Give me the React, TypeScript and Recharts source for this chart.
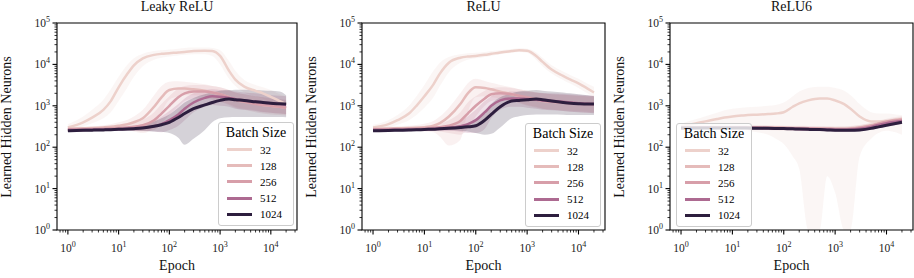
import React from 'react';
import { ComposedChart, Line, Area, XAxis, YAxis, ReferenceArea } from 'recharts';

// epochs sampled on the log axis
const epochs = [1, 2, 3, 5, 7, 10, 15, 20, 30, 50, 70, 100, 150, 200, 300, 500, 700, 1000, 1500, 2000, 3000, 5000, 7000, 10000, 15000, 20000];
const batchSizes = [32, 128, 256, 512, 1024];
const batchColors = ['#EDD1CB', '#E5BBBA', '#D79EA9', '#AD6A91', '#2D1E3E'];
const decadeTicks = [1, 10, 100, 1000, 10000, 100000];
const minorSteps = [2, 3, 4, 5, 6, 7, 8, 9];
const xDomain = [0.61, 32800];
const yDomain = [1, 100000];

// Leaky ReLU
const leaky32 = [300, 400, 520, 800, 1300, 2800, 6000, 9500, 14000, 17000, 18000, 18600, 19500, 20000, 21000, 21500, 21000, 16000, 7000, 4300, 2900, 2300, 2000, 1650, 1300, 1100];
const leaky32Lo = [260, 320, 380, 500, 700, 1300, 2800, 5000, 9000, 13000, 14500, 15500, 16500, 17000, 17500, 17500, 16000, 10000, 4500, 3000, 2100, 1700, 1500, 1200, 950, 800];
const leaky32Hi = [360, 550, 800, 1400, 2500, 5000, 10000, 14000, 18000, 21000, 22000, 23000, 24000, 25000, 25500, 25500, 25000, 22000, 12000, 7000, 4200, 3200, 2800, 2400, 1900, 1700];
const leaky128 = [280, 285, 290, 300, 310, 330, 360, 400, 500, 950, 1600, 2400, 2600, 2600, 2500, 2300, 2100, 1900, 1600, 1400, 1250, 1150, 1050, 1000, 950, 900];
const leaky128Lo = [250, 255, 255, 260, 260, 265, 260, 240, 220, 300, 700, 1400, 1700, 1800, 1800, 1700, 1500, 1300, 1100, 950, 850, 780, 720, 680, 650, 620];
const leaky128Hi = [310, 315, 320, 340, 360, 400, 460, 550, 800, 1800, 3000, 3800, 3900, 3800, 3600, 3300, 3000, 2800, 2400, 2100, 1900, 1700, 1600, 1500, 1400, 1350];
const leaky256 = [270, 272, 275, 280, 285, 290, 300, 310, 340, 450, 650, 1000, 1600, 2000, 2200, 2200, 2100, 1900, 1600, 1400, 1250, 1100, 1050, 1000, 950, 900];
const leaky256Lo = [245, 245, 248, 250, 252, 255, 255, 250, 240, 260, 380, 600, 950, 1300, 1500, 1500, 1400, 1250, 1050, 900, 800, 700, 650, 620, 600, 580];
const leaky256Hi = [300, 300, 305, 310, 320, 330, 350, 380, 460, 700, 1100, 1700, 2600, 3000, 3200, 3200, 3000, 2800, 2400, 2100, 1900, 1700, 1600, 1500, 1450, 1400];
const leaky512 = [260, 262, 265, 268, 270, 275, 280, 285, 295, 320, 360, 450, 620, 850, 1200, 1550, 1700, 1650, 1550, 1450, 1350, 1250, 1200, 1150, 1100, 1050];
const leaky512Lo = [240, 240, 242, 245, 245, 248, 250, 250, 250, 240, 230, 260, 330, 450, 700, 950, 1050, 1000, 950, 850, 800, 750, 700, 680, 650, 630];
const leaky512Hi = [285, 288, 290, 295, 300, 305, 315, 330, 360, 430, 550, 750, 1100, 1500, 2000, 2400, 2500, 2400, 2300, 2200, 2100, 2000, 1900, 1800, 1750, 1700];
const leaky1024 = [250, 255, 258, 262, 265, 270, 275, 280, 290, 320, 350, 400, 520, 650, 850, 1050, 1200, 1350, 1450, 1400, 1350, 1250, 1200, 1150, 1120, 1100];
const leaky1024Lo = [235, 238, 240, 243, 245, 248, 250, 250, 245, 240, 235, 220, 170, 115, 160, 260, 400, 500, 530, 540, 540, 540, 540, 540, 540, 530];
const leaky1024Hi = [265, 270, 275, 280, 285, 290, 300, 310, 340, 420, 500, 620, 900, 1200, 1550, 1900, 2100, 2300, 2400, 2450, 2450, 2400, 2350, 2300, 2200, 1800];

// ReLU
const relu32 = [300, 360, 450, 650, 1000, 1700, 3300, 6000, 11000, 14500, 15500, 16000, 17000, 18000, 19500, 21000, 22000, 21500, 16000, 11500, 7500, 5300, 4300, 3500, 2600, 2100];
const relu32Lo = [260, 300, 350, 450, 600, 900, 1600, 3000, 6500, 11000, 13000, 14000, 15000, 16000, 17500, 19000, 20000, 19000, 13000, 9000, 6000, 4200, 3400, 2700, 2000, 1600];
const relu32Hi = [350, 450, 600, 1000, 1700, 3200, 7000, 11000, 15000, 17500, 18500, 19000, 20000, 21000, 22000, 23500, 24500, 24000, 19500, 14500, 9500, 6700, 5500, 4500, 3400, 2900];
const relu128 = [280, 282, 285, 290, 295, 305, 330, 380, 550, 1100, 2000, 2800, 2700, 2500, 2200, 1900, 1700, 1500, 1400, 1300, 1250, 1200, 1170, 1150, 1120, 1100];
const relu128Lo = [250, 250, 250, 250, 245, 240, 230, 180, 110, 150, 700, 1600, 1700, 1600, 1500, 1300, 1150, 1000, 900, 850, 800, 780, 760, 740, 720, 700];
const relu128Hi = [310, 315, 320, 330, 345, 370, 430, 550, 900, 2000, 3500, 4500, 4000, 3600, 3200, 2800, 2500, 2300, 2100, 2000, 1900, 1850, 1800, 1750, 1700, 1700];
const relu256 = [270, 272, 275, 278, 282, 288, 295, 305, 330, 430, 650, 1000, 1500, 1900, 2000, 1900, 1750, 1600, 1450, 1350, 1250, 1200, 1150, 1120, 1100, 1080];
const relu256Lo = [245, 245, 247, 248, 250, 250, 248, 240, 220, 200, 280, 550, 1000, 1300, 1400, 1300, 1200, 1050, 950, 850, 800, 750, 720, 700, 680, 660];
const relu256Hi = [300, 300, 305, 310, 315, 325, 345, 375, 450, 700, 1200, 1700, 2300, 2700, 2800, 2700, 2500, 2300, 2100, 2000, 1900, 1850, 1800, 1750, 1700, 1700];
const relu512 = [260, 262, 264, 266, 268, 272, 278, 285, 295, 320, 360, 450, 700, 1000, 1350, 1500, 1500, 1450, 1400, 1350, 1300, 1250, 1200, 1150, 1120, 1100];
const relu512Lo = [240, 240, 242, 243, 245, 247, 250, 250, 248, 235, 220, 220, 280, 500, 800, 950, 950, 900, 850, 800, 780, 750, 720, 700, 680, 660];
const relu512Hi = [285, 287, 290, 292, 295, 300, 310, 320, 345, 420, 560, 800, 1300, 1700, 2000, 2200, 2200, 2150, 2100, 2050, 2000, 1950, 1900, 1850, 1800, 1750];
const relu1024 = [250, 253, 256, 260, 263, 268, 272, 278, 285, 298, 310, 330, 450, 620, 950, 1300, 1350, 1400, 1450, 1400, 1300, 1200, 1150, 1120, 1100, 1100];
const relu1024Lo = [235, 238, 240, 243, 245, 248, 250, 252, 255, 250, 240, 220, 200, 210, 300, 500, 560, 600, 620, 620, 620, 610, 600, 600, 600, 600];
const relu1024Hi = [265, 268, 272, 277, 282, 288, 295, 305, 318, 340, 370, 430, 700, 1100, 1600, 2000, 2200, 2300, 2400, 2300, 2200, 2100, 2000, 1900, 1800, 1700];

// ReLU6
const relu6_32 = [320, 380, 420, 480, 520, 550, 580, 600, 610, 630, 650, 700, 950, 1150, 1350, 1500, 1500, 1350, 1100, 850, 550, 420, 420, 430, 420, 400];
const relu6_32Lo = [280, 300, 310, 320, 320, 300, 280, 250, 230, 200, 160, 120, 60, 30, 1, 1, 20, 8, 1, 1, 60, 160, 220, 250, 230, 200];
const relu6_32Hi = [370, 480, 560, 680, 780, 850, 900, 920, 950, 1000, 1050, 1200, 1700, 2200, 2700, 2900, 2900, 2700, 2300, 1800, 1100, 700, 650, 650, 620, 600];
const relu6_128 = [300, 302, 303, 305, 305, 305, 305, 304, 302, 300, 298, 295, 292, 290, 288, 285, 282, 280, 280, 285, 300, 340, 380, 420, 460, 480];
const relu6_128Lo = [270, 272, 273, 275, 275, 275, 273, 270, 268, 265, 262, 258, 255, 252, 250, 248, 245, 242, 240, 245, 255, 290, 320, 350, 380, 390];
const relu6_128Hi = [330, 335, 335, 338, 340, 340, 340, 340, 338, 336, 334, 332, 330, 328, 325, 322, 320, 318, 320, 325, 345, 390, 440, 490, 540, 570];
const relu6_256 = [295, 297, 298, 300, 300, 300, 300, 298, 296, 294, 292, 290, 287, 284, 282, 280, 278, 276, 276, 280, 295, 330, 370, 410, 440, 460];
const relu6_256Lo = [265, 267, 268, 270, 270, 270, 268, 266, 264, 262, 258, 255, 250, 248, 246, 244, 242, 240, 240, 243, 255, 285, 315, 345, 370, 380];
const relu6_256Hi = [325, 328, 330, 332, 333, 333, 333, 332, 330, 328, 326, 324, 322, 320, 318, 316, 314, 312, 314, 320, 340, 380, 425, 470, 510, 540];
const relu6_512 = [292, 293, 294, 295, 295, 295, 294, 292, 290, 288, 286, 283, 280, 277, 274, 271, 268, 265, 265, 268, 280, 310, 345, 380, 410, 430];
const relu6_512Lo = [268, 269, 270, 271, 271, 271, 270, 268, 266, 264, 262, 259, 256, 253, 250, 247, 244, 241, 240, 243, 254, 280, 310, 340, 365, 380];
const relu6_512Hi = [318, 319, 320, 321, 321, 321, 320, 318, 316, 314, 312, 309, 306, 303, 300, 297, 294, 291, 292, 296, 310, 342, 382, 422, 458, 485];
const relu6_1024 = [290, 291, 292, 292, 292, 292, 291, 290, 288, 286, 284, 281, 278, 274, 270, 266, 262, 258, 255, 255, 262, 285, 310, 340, 375, 400];
const relu6_1024Lo = [272, 273, 274, 274, 274, 274, 273, 272, 270, 268, 266, 263, 260, 256, 252, 248, 244, 240, 237, 237, 244, 265, 288, 315, 345, 365];
const relu6_1024Hi = [310, 311, 312, 312, 312, 312, 311, 310, 308, 306, 304, 301, 298, 294, 290, 286, 282, 278, 275, 275, 282, 307, 334, 367, 405, 440];

const FONT = '"Liberation Serif", "Times New Roman", serif';

const panels = [
  {
    title: 'Leaky ReLU', plotLeft: 57, plotWidth: 240, legendLeft: 218, legendTop: 122,
    series: [
      [leaky32, leaky32Lo, leaky32Hi], [leaky128, leaky128Lo, leaky128Hi], [leaky256, leaky256Lo, leaky256Hi],
      [leaky512, leaky512Lo, leaky512Hi], [leaky1024, leaky1024Lo, leaky1024Hi],
    ],
  },
  {
    title: 'ReLU', plotLeft: 362, plotWidth: 243, legendLeft: 525, legendTop: 123,
    series: [
      [relu32, relu32Lo, relu32Hi], [relu128, relu128Lo, relu128Hi], [relu256, relu256Lo, relu256Hi],
      [relu512, relu512Lo, relu512Hi], [relu1024, relu1024Lo, relu1024Hi],
    ],
  },
  {
    title: 'ReLU6', plotLeft: 670, plotWidth: 243, legendLeft: 676, legendTop: 123,
    series: [
      [relu6_32, relu6_32Lo, relu6_32Hi], [relu6_128, relu6_128Lo, relu6_128Hi], [relu6_256, relu6_256Lo, relu6_256Hi],
      [relu6_512, relu6_512Lo, relu6_512Hi], [relu6_1024, relu6_1024Lo, relu6_1024Hi],
    ],
  },
];

const inDomain = (v: number, d: number[]) => v >= d[0] * 0.999 && v <= d[1] * 1.001;
const withMinors = (d: number[]) => {
  const out: number[] = [];
  [0.1, ...decadeTicks].forEach((m) => {
    out.push(m);
    minorSteps.forEach((s) => out.push(m * s));
  });
  return out.filter((v) => inDomain(v, d));
};
const xTicks = withMinors(xDomain);
const yTicks = withMinors(yDomain);

const isMajor = (v: number) => Math.abs(Math.log10(v) - Math.round(Math.log10(v))) < 1e-6;

const XTick = (props: any) => {
  const { x, y, payload } = props;
  const v = payload.value;
  const major = isMajor(v);
  return (
    <g>
      <line x1={x} x2={x} y1={y} y2={y + (major ? 4.5 : 2.5)} stroke="#000" strokeWidth={major ? 1.1 : 0.8} />
      {major && (
        <text x={x} y={y + 22} textAnchor="middle" fontSize={11.5} fontFamily={FONT} fill="#222">
          10<tspan dy={-5} fontSize={8}>{Math.round(Math.log10(v))}</tspan>
        </text>
      )}
    </g>
  );
};

const YTick = (props: any) => {
  const { x, y, payload } = props;
  const v = payload.value;
  const major = isMajor(v);
  return (
    <g>
      <line x1={x} x2={x - (major ? 4.5 : 2.5)} y1={y} y2={y} stroke="#000" strokeWidth={major ? 1.1 : 0.8} />
      {major && (
        <text x={x - 7} y={y + 4} textAnchor="end" fontSize={11.5} fontFamily={FONT} fill="#222">
          10<tspan dy={-5} fontSize={8}>{Math.round(Math.log10(v))}</tspan>
        </text>
      )}
    </g>
  );
};

const Legend = ({ left, top }: { left: number; top: number }) => (
  <div
    style={{
      position: 'absolute', left, top, width: 76, height: 104, boxSizing: 'border-box',
      border: '1px solid #cccccc', borderRadius: 3, background: 'rgba(255,255,255,0.8)', fontFamily: FONT,
    }}
  >
    <div style={{ position: 'absolute', left: 0, top: 2, width: '100%', textAlign: 'center', fontSize: 14, lineHeight: '16px' }}>
      Batch Size
    </div>
    {batchSizes.map((b, i) => {
      const cy = 26.5 + 16.2 * i;
      return (
        <React.Fragment key={b}>
          <div style={{ position: 'absolute', left: 8, top: cy - 1.5, width: 25, height: 3, background: batchColors[i] }} />
          <div style={{ position: 'absolute', left: 41, top: cy - 8, fontSize: 11, lineHeight: '16px' }}>{b}</div>
        </React.Fragment>
      );
    })}
  </div>
);

const Panel = ({ panel }: { panel: any }) => {
  const rows = epochs.map((e, i) => {
    const row: any = { epoch: e };
    panel.series.forEach((s: number[][], k: number) => {
      row[`m${batchSizes[k]}`] = s[0][i];
      row[`r${batchSizes[k]}`] = [s[1][i], s[2][i]];
    });
    return row;
  });
  const chartLeft = panel.plotLeft - 57;
  const width = 57 + panel.plotWidth + 1;
  return (
    <>
      <div style={{ position: 'absolute', left: chartLeft, top: 0 }}>
        <ComposedChart width={width} height={278} data={rows} margin={{ top: 23, right: 1, bottom: 47, left: 56 }}>
          <XAxis
            dataKey="epoch" type="number" scale="log" domain={xDomain} allowDataOverflow
            ticks={xTicks} interval={0} tick={<XTick />} tickLine={false} axisLine={false}
            tickSize={0} tickMargin={0} height={1}
          />
          <YAxis
            type="number" scale="log" domain={yDomain} allowDataOverflow
            ticks={yTicks} interval={0} tick={<YTick />} tickLine={false} axisLine={false}
            tickSize={0} tickMargin={0} width={1}
          />
          {batchSizes.map((b, k) => (
            <Area
              key={`a${b}`} dataKey={`r${b}`} type="monotone" stroke="none"
              fill={batchColors[k]} fillOpacity={0.2} isAnimationActive={false}
            />
          ))}
          {batchSizes.map((b, k) => (
            <Line
              key={`l${b}`} dataKey={`m${b}`} type="monotone" stroke={batchColors[k]}
              strokeWidth={b === 1024 ? 3 : 2.5} dot={false} isAnimationActive={false}
            />
          ))}
          <ReferenceArea
            x1={xDomain[0]} x2={xDomain[1]} y1={yDomain[0]} y2={yDomain[1]}
            fill="none" stroke="#000" strokeWidth={1.1} ifOverflow="visible"
          />
        </ComposedChart>
      </div>
      <div
        style={{
          position: 'absolute', left: panel.plotLeft, width: panel.plotWidth, top: -1, textAlign: 'center',
          fontSize: 14, lineHeight: '16px', fontFamily: FONT, color: '#111',
        }}
      >
        {panel.title}
      </div>
      <div
        style={{
          position: 'absolute', left: panel.plotLeft, width: panel.plotWidth, top: 257.5, textAlign: 'center',
          fontSize: 14, lineHeight: '16px', fontFamily: FONT, color: '#111',
        }}
      >
        Epoch
      </div>
      <div
        style={{
          position: 'absolute', left: panel.plotLeft - 50, top: 127, transform: 'translate(-50%, -50%) rotate(-90deg)',
          whiteSpace: 'nowrap', fontSize: 14, lineHeight: '16px', fontFamily: FONT, color: '#111',
        }}
      >
        Learned Hidden Neurons
      </div>
      <Legend left={panel.legendLeft} top={panel.legendTop} />
    </>
  );
};

export default function App() {
  return (
    <div style={{ position: 'absolute', left: 0, top: 0, width: 914, height: 278, overflow: 'hidden', background: '#fff' }}>
      {panels.map((p) => (
        <Panel key={p.title} panel={p} />
      ))}
    </div>
  );
}
